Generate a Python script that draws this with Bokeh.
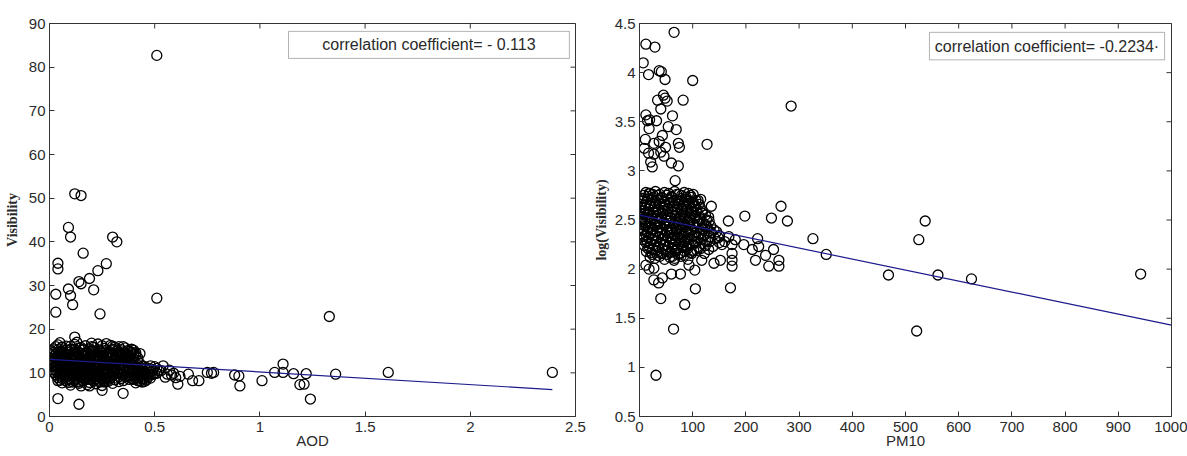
import math
from bokeh.plotting import figure
from bokeh.layouts import row
from bokeh.models import FixedTicker, Range1d, BoxAnnotation, Label
from bokeh.embed import file_html
from bokeh.resources import INLINE

# ---------------- data: left panel (AOD vs Visibility) ----------------
aod_out = [0.51, 0.12, 0.15, 0.09, 0.10, 0.30, 0.32, 0.04, 0.04, 0.16, 0.27, 0.23, 0.19, 0.14,
           0.15, 0.09, 0.03, 0.10, 0.11, 0.21, 0.03, 0.24, 0.51, 1.33, 0.12, 0.04, 0.14, 0.35, 0.25,
           0.56, 0.54, 0.60, 0.61, 0.58, 0.59, 0.62, 0.57, 0.53, 0.55, 0.66, 0.68, 0.71, 0.75, 0.77,
           0.78, 0.88, 0.90, 0.905, 1.01, 1.07, 1.11, 1.11, 1.16, 1.19, 1.21, 1.22, 1.24, 1.36, 1.61, 2.39,
           0.04, 0.09, 0.14, 0.19, 0.26]
vis_out = [82.7, 51.0, 50.6, 43.3, 41.1, 41.1, 40.0, 35.1, 33.8, 37.4, 35.0, 33.4, 31.6, 30.9,
           30.4, 29.2, 28.0, 27.7, 25.6, 29.0, 23.9, 23.5, 27.1, 22.9, 18.2, 4.1, 2.8, 5.3, 6.0,
           9.7, 11.6, 8.9, 7.4, 9.5, 9.9, 9.2, 10.6, 10.5, 9.0, 9.7, 8.2, 8.2, 10.1, 9.9,
           10.1, 9.5, 9.3, 7.0, 8.2, 10.1, 12.0, 10.1, 9.8, 7.3, 7.4, 9.8, 4.0, 9.7, 10.1, 10.1,
           8.2, 7.8, 7.9, 7.0, 8.2]

aod_cluster = [
    0.04, 0.08, 0.12, 0.17, 0.23, 0.29, 0.33,
    0.02, 0.06, 0.10, 0.14, 0.19, 0.21, 0.26, 0.31, 0.36, 0.39,
    0.01, 0.05, 0.09, 0.13, 0.16, 0.20, 0.24, 0.28, 0.32, 0.35, 0.38, 0.41,
    0.03, 0.07, 0.11, 0.15, 0.18, 0.22, 0.25, 0.30, 0.34, 0.37, 0.40,
    0.02, 0.05, 0.08, 0.12, 0.14, 0.17, 0.21, 0.24, 0.27, 0.31, 0.33, 0.36, 0.42,
    0.01, 0.04, 0.07, 0.10, 0.13, 0.16, 0.19, 0.23, 0.26, 0.29, 0.32, 0.35, 0.39,
    0.02, 0.06, 0.09, 0.11, 0.15, 0.18, 0.20, 0.25, 0.28, 0.30, 0.34, 0.37, 0.41,
    0.01, 0.03, 0.07, 0.10, 0.12, 0.16, 0.19, 0.22, 0.26, 0.29, 0.33, 0.36, 0.40, 0.44,
    0.02, 0.05, 0.08, 0.11, 0.14, 0.17, 0.21, 0.24, 0.27, 0.31, 0.34, 0.38, 0.42, 0.46, 0.50,
    0.01, 0.04, 0.06, 0.09, 0.13, 0.15, 0.18, 0.22, 0.25, 0.28, 0.32, 0.35, 0.39, 0.43, 0.47, 0.52,
    0.02, 0.05, 0.08, 0.12, 0.14, 0.17, 0.20, 0.23, 0.27, 0.30, 0.33, 0.37, 0.41, 0.44, 0.48, 0.51,
    0.03, 0.06, 0.10, 0.13, 0.16, 0.19, 0.24, 0.26, 0.29, 0.34, 0.38, 0.40, 0.43, 0.46, 0.49,
    0.04, 0.07, 0.11, 0.15, 0.18, 0.21, 0.25, 0.28, 0.32, 0.36, 0.39, 0.42, 0.45, 0.48,
    0.05, 0.09, 0.12, 0.17, 0.20, 0.23, 0.27, 0.31, 0.35, 0.40, 0.43, 0.46,
    0.06, 0.11, 0.14, 0.19, 0.22, 0.26, 0.30, 0.41, 0.44,
    0.10, 0.15, 0.18, 0.25,
    0.05, 0.13, 0.20, 0.27, 0.30]
vis_cluster = [
    16.4, 16.1, 16.5, 16.2, 16.6, 16.3, 16.0,
    15.5, 15.8, 15.4, 15.7, 15.5, 15.9, 15.6, 15.3, 15.7, 15.4,
    15.0, 14.9, 15.1, 14.8, 15.2, 14.9, 15.0, 14.7, 15.1, 14.8, 15.0, 14.6,
    14.3, 14.5, 14.2, 14.4, 14.6, 14.3, 14.5, 14.2, 14.4, 14.1, 14.3,
    13.7, 13.9, 13.6, 13.8, 14.0, 13.7, 13.9, 13.6, 13.8, 13.5, 13.9, 13.6, 13.4,
    13.2, 13.0, 13.3, 13.1, 13.4, 13.2, 12.9, 13.2, 13.0, 13.3, 12.9, 13.1, 12.8,
    12.5, 12.7, 12.4, 12.6, 12.8, 12.5, 12.3, 12.6, 12.4, 12.7, 12.3, 12.5, 12.2,
    12.0, 11.8, 12.1, 11.9, 12.2, 11.8, 12.0, 11.7, 12.1, 11.8, 12.0, 11.6, 11.9, 11.5,
    11.3, 11.5, 11.2, 11.4, 11.6, 11.3, 11.1, 11.4, 11.2, 11.5, 11.1, 11.3, 11.0, 11.2, 11.4,
    10.7, 10.9, 10.6, 10.8, 11.0, 10.7, 10.5, 10.8, 10.6, 10.9, 10.5, 10.7, 10.4, 10.6, 10.8, 10.5,
    10.1, 10.3, 10.0, 10.2, 10.4, 10.1, 9.9, 10.2, 10.0, 10.3, 9.9, 10.1, 9.8, 10.0, 10.2, 9.9,
    9.5, 9.7, 9.4, 9.6, 9.8, 9.5, 9.3, 9.6, 9.4, 9.7, 9.3, 9.5, 9.2, 9.4, 9.6,
    8.9, 9.1, 8.8, 9.0, 9.2, 8.9, 8.7, 9.0, 8.8, 9.1, 8.7, 8.9, 8.6, 8.8,
    8.3, 8.5, 8.2, 8.4, 8.6, 8.3, 8.1, 8.4, 8.2, 8.5, 8.1, 8.3,
    7.7, 7.9, 7.6, 7.8, 7.5, 7.9, 7.6, 7.7, 7.9,
    7.2, 7.0, 7.3, 7.1,
    16.9, 17.0, 16.8, 16.7, 16.1]

aod_cluster2 = [
    0.03, 0.06, 0.10, 0.15, 0.20, 0.25, 0.31, 0.35,
    0.04, 0.08, 0.12, 0.16, 0.20, 0.23, 0.27, 0.30, 0.34, 0.37, 0.40,
    0.02, 0.06, 0.10, 0.14, 0.17, 0.21, 0.26, 0.29, 0.33, 0.36, 0.39, 0.43,
    0.01, 0.04, 0.09, 0.13, 0.16, 0.20, 0.23, 0.28, 0.32, 0.35, 0.38, 0.41,
    0.03, 0.06, 0.10, 0.13, 0.15, 0.19, 0.22, 0.25, 0.29, 0.32, 0.34, 0.37, 0.40,
    0.02, 0.05, 0.08, 0.11, 0.14, 0.17, 0.21, 0.24, 0.27, 0.31, 0.33, 0.36, 0.38, 0.42,
    0.01, 0.04, 0.08, 0.10, 0.13, 0.17, 0.19, 0.23, 0.26, 0.29, 0.32, 0.35, 0.39, 0.43,
    0.02, 0.05, 0.09, 0.11, 0.14, 0.18, 0.21, 0.25, 0.28, 0.30, 0.34, 0.37, 0.41, 0.45, 0.48,
    0.03, 0.06, 0.09, 0.12, 0.16, 0.19, 0.23, 0.26, 0.29, 0.33, 0.36, 0.40, 0.44, 0.48, 0.51,
    0.03, 0.07, 0.10, 0.13, 0.16, 0.19, 0.21, 0.24, 0.28, 0.31, 0.35, 0.38, 0.42, 0.45, 0.49,
    0.04, 0.07, 0.11, 0.15, 0.18, 0.22, 0.25, 0.28, 0.31, 0.35, 0.39, 0.42, 0.45, 0.47, 0.50,
    0.05, 0.08, 0.12, 0.14, 0.17, 0.20, 0.23, 0.27, 0.30, 0.33, 0.37, 0.41, 0.44, 0.47,
    0.06, 0.10, 0.13, 0.16, 0.19, 0.22, 0.26, 0.29, 0.34, 0.38, 0.41, 0.44,
    0.08, 0.13, 0.16, 0.21, 0.24, 0.28, 0.33, 0.42, 0.45]
vis_cluster2 = [
    16.0, 15.9, 16.1, 15.8, 16.0, 16.2, 15.9, 16.0,
    15.3, 15.2, 15.4, 15.3, 15.1, 15.3, 15.2, 15.4, 15.3, 15.1, 15.2,
    14.7, 14.6, 14.8, 14.7, 14.5, 14.7, 14.8, 14.6, 14.7, 14.5, 14.7, 14.4,
    14.1, 14.0, 14.2, 14.1, 13.9, 14.1, 14.0, 14.2, 14.0, 14.1, 13.9, 14.0,
    13.5, 13.4, 13.6, 13.5, 13.3, 13.5, 13.4, 13.6, 13.5, 13.3, 13.5, 13.4, 13.2,
    12.9, 12.8, 13.0, 12.9, 12.7, 12.9, 12.8, 13.0, 12.9, 12.7, 12.9, 12.8, 12.6, 12.8,
    12.3, 12.2, 12.4, 12.3, 12.1, 12.3, 12.2, 12.4, 12.3, 12.1, 12.3, 12.2, 12.0, 12.1,
    11.7, 11.6, 11.8, 11.7, 11.5, 11.7, 11.6, 11.8, 11.7, 11.5, 11.7, 11.6, 11.4, 11.5, 11.6,
    11.1, 11.0, 11.2, 11.1, 10.9, 11.1, 11.0, 11.2, 11.1, 10.9, 11.1, 11.0, 10.8, 10.9, 11.0,
    10.5, 10.4, 10.6, 10.5, 10.3, 10.5, 10.4, 10.6, 10.5, 10.3, 10.5, 10.4, 10.2, 10.3, 10.4,
    9.9, 9.8, 10.0, 9.9, 9.7, 9.9, 9.8, 10.0, 9.9, 9.7, 9.9, 9.8, 9.6, 9.7, 9.8,
    9.3, 9.2, 9.4, 9.3, 9.1, 9.3, 9.2, 9.4, 9.3, 9.1, 9.3, 9.2, 9.0, 9.1,
    8.7, 8.6, 8.8, 8.7, 8.5, 8.7, 8.6, 8.8, 8.7, 8.5, 8.7, 8.6,
    8.1, 8.0, 8.2, 8.1, 7.9, 8.1, 8.0, 8.2, 8.0]

aod_fit = [13.1, -2.9]          # intercept, slope of the fitted line
aod_fit_x = [0.0, 2.39]
aod_r_text = "correlation coefficient= - 0.113"

# ---------------- data: right panel (PM10 vs log(Visibility)) ----------------
pm_out = [65, 12, 29, 7, 17, 37, 41, 48, 100, 82, 45, 48, 34, 52, 40, 62, 12, 19, 15, 32, 18, 54, 69,
          285, 127, 11, 27, 43, 37, 73, 75, 49, 9, 17, 27, 40, 46, 21, 24, 60, 73, 67,
          115, 135, 266, 198, 248, 278, 167, 130, 9, 18,
          326, 351, 468, 222, 196, 212, 224, 218, 237, 252, 243, 262, 262, 174, 174, 174, 174,
          152, 140, 117, 104, 93, 77, 60, 43, 27, 36, 12, 27, 18, 65, 40, 105, 171, 85, 64, 31,
          525, 561, 624, 942, 521, 537]
lv_out = [4.41, 4.29, 4.26, 4.10, 3.98, 4.02, 4.01, 3.93, 3.92, 3.72, 3.77, 3.74, 3.72, 3.71, 3.63,
          3.56, 3.57, 3.52, 3.51, 3.51, 3.43, 3.45, 3.42,
          3.66, 3.27, 3.32, 3.28, 3.36, 3.30, 3.28, 3.24, 3.24, 3.23, 3.18, 3.17, 3.19, 3.15, 3.09,
          3.04, 3.08, 3.05, 2.90,
          2.71, 2.64, 2.64, 2.54, 2.52, 2.49, 2.49, 2.53, 2.72, 2.77,
          2.31, 2.15, 1.94, 2.31, 2.25, 2.20, 2.23, 2.09, 2.14, 2.20, 2.03, 2.03, 2.09, 2.03, 2.09,
          2.16, 2.25, 2.09, 2.06, 2.09, 1.99, 2.04, 1.95, 1.95, 1.91, 1.89, 1.86, 2.04, 2.01, 2.00,
          2.09, 1.70, 1.80, 1.81, 1.64, 1.39, 0.92,
          2.30, 1.94, 1.90, 1.95, 1.37, 2.49]

pm_cluster = [
    12, 20, 30, 38, 47, 55, 66, 74, 84, 92, 101,
    5, 15, 25, 34, 43, 52, 61, 70, 79, 88, 97, 106,
    3, 10, 20, 29, 39, 48, 57, 65, 75, 83, 93, 102, 112,
    2, 8, 17, 26, 35, 44, 53, 62, 71, 80, 89, 98, 108, 118,
    1, 6, 14, 23, 31, 40, 49, 58, 67, 76, 85, 94, 104, 114, 124,
    3, 11, 19, 28, 37, 46, 55, 64, 73, 82, 91, 100, 110, 120, 131,
    2, 8, 16, 25, 34, 43, 51, 60, 69, 78, 87, 96, 106, 117, 127, 140,
    4, 12, 21, 30, 39, 48, 57, 66, 74, 83, 92, 102, 112, 123, 135, 150,
    6, 14, 23, 32, 41, 50, 59, 68, 77, 86, 95, 105, 116, 128, 142, 160, 180,
    9, 18, 27, 36, 45, 54, 63, 72, 81, 90, 100, 111, 124, 138, 155,
    13, 22, 31, 40, 49, 58, 67, 76, 85, 96, 108, 122,
    20, 29, 38, 47, 57, 66, 78, 91]
lv_cluster = [
    2.78, 2.77, 2.79, 2.76, 2.78, 2.77, 2.79, 2.76, 2.78, 2.77, 2.76,
    2.72, 2.71, 2.73, 2.70, 2.72, 2.71, 2.73, 2.70, 2.72, 2.71, 2.73, 2.70,
    2.66, 2.65, 2.67, 2.64, 2.66, 2.65, 2.67, 2.64, 2.66, 2.65, 2.67, 2.64, 2.66,
    2.60, 2.59, 2.61, 2.58, 2.60, 2.59, 2.61, 2.58, 2.60, 2.59, 2.61, 2.58, 2.60, 2.59,
    2.54, 2.53, 2.55, 2.52, 2.54, 2.53, 2.55, 2.52, 2.54, 2.53, 2.55, 2.52, 2.54, 2.53, 2.55,
    2.48, 2.47, 2.49, 2.46, 2.48, 2.47, 2.49, 2.46, 2.48, 2.47, 2.49, 2.46, 2.48, 2.47, 2.49,
    2.42, 2.41, 2.43, 2.40, 2.42, 2.41, 2.43, 2.40, 2.42, 2.41, 2.43, 2.40, 2.42, 2.41, 2.43, 2.40,
    2.36, 2.35, 2.37, 2.34, 2.36, 2.35, 2.37, 2.34, 2.36, 2.35, 2.37, 2.34, 2.36, 2.35, 2.37, 2.34,
    2.30, 2.29, 2.31, 2.28, 2.30, 2.29, 2.31, 2.28, 2.30, 2.29, 2.31, 2.28, 2.30, 2.29, 2.31, 2.28, 2.30,
    2.24, 2.23, 2.25, 2.22, 2.24, 2.23, 2.25, 2.22, 2.24, 2.23, 2.25, 2.22, 2.24, 2.23, 2.25,
    2.18, 2.17, 2.19, 2.16, 2.18, 2.17, 2.19, 2.16, 2.18, 2.17, 2.19, 2.16,
    2.12, 2.11, 2.13, 2.10, 2.12, 2.11, 2.13, 2.10]

pm_cluster2 = [
    8, 16, 25, 34, 42, 51, 60, 70, 79, 88, 96,
    6, 13, 22, 30, 39, 47, 56, 66, 74, 84, 92, 101, 110,
    4, 11, 19, 28, 36, 45, 53, 62, 70, 79, 88, 97, 105, 114,
    3, 9, 18, 27, 35, 44, 52, 61, 70, 79, 88, 97, 107, 118,
    4, 10, 16, 24, 33, 42, 50, 59, 68, 77, 86, 95, 105, 115, 126,
    5, 12, 21, 30, 39, 47, 56, 65, 74, 83, 92, 102, 113, 124, 134,
    7, 15, 24, 33, 42, 52, 61, 70, 79, 88, 97, 108, 120, 131, 145,
    9, 17, 26, 35, 44, 53, 62, 71, 80, 90, 99, 110, 121, 133, 148, 168,
    12, 21, 30, 39, 48, 57, 66, 75, 84, 93, 104, 118, 132, 150,
    16, 25, 34, 43, 52, 61, 70, 80, 90, 102, 115, 130,
    24, 34, 43, 52, 62, 72, 84, 98]
lv_cluster2 = [
    2.75, 2.74, 2.76, 2.75, 2.73, 2.75, 2.74, 2.76, 2.75, 2.73, 2.75,
    2.69, 2.68, 2.70, 2.69, 2.67, 2.69, 2.68, 2.70, 2.69, 2.67, 2.69, 2.68, 2.70,
    2.63, 2.62, 2.64, 2.63, 2.61, 2.63, 2.62, 2.64, 2.63, 2.61, 2.63, 2.62, 2.64, 2.63,
    2.57, 2.56, 2.58, 2.57, 2.55, 2.57, 2.56, 2.58, 2.57, 2.55, 2.57, 2.56, 2.58, 2.57,
    2.51, 2.50, 2.52, 2.51, 2.49, 2.51, 2.50, 2.52, 2.51, 2.49, 2.51, 2.50, 2.52, 2.51, 2.50,
    2.45, 2.44, 2.46, 2.45, 2.43, 2.45, 2.44, 2.46, 2.45, 2.43, 2.45, 2.44, 2.46, 2.45, 2.44,
    2.39, 2.38, 2.40, 2.39, 2.37, 2.39, 2.38, 2.40, 2.39, 2.37, 2.39, 2.38, 2.40, 2.39, 2.38,
    2.33, 2.32, 2.34, 2.33, 2.31, 2.33, 2.32, 2.34, 2.33, 2.31, 2.33, 2.32, 2.34, 2.33, 2.32, 2.33,
    2.27, 2.26, 2.28, 2.27, 2.25, 2.27, 2.26, 2.28, 2.27, 2.25, 2.27, 2.26, 2.28, 2.27,
    2.21, 2.20, 2.22, 2.21, 2.19, 2.21, 2.20, 2.22, 2.21, 2.19, 2.21, 2.20,
    2.15, 2.14, 2.16, 2.15, 2.13, 2.15, 2.14, 2.16]

pm_fit = [2.55, -0.00112]       # intercept, slope of the fitted line
pm_fit_x = [0.0, 1000.0]
pm_r_text = "correlation coefficient= -0.2234\u00b7"

aod_xticks = [0, 0.5, 1, 1.5, 2, 2.5]
aod_xlabels = ["0", "0.5", "1", "1.5", "2", "2.5"]
vis_yticks = [0, 10, 20, 30, 40, 50, 60, 70, 80, 90]
pm_xticks = [0, 100, 200, 300, 400, 500, 600, 700, 800, 900, 1000]
lv_yticks = [0.5, 1, 1.5, 2, 2.5, 3, 3.5, 4, 4.5]
lv_ylabels = ["0.5", "1", "1.5", "2", "2.5", "3", "3.5", "4", "4.5"]

SANS = "Liberation Sans"
SERIF = "Liberation Serif"
AXC = "#333333"
TXC = "#2a2a2a"


def style_axis(ax, ticks, labels=None):
    ax.ticker = FixedTicker(ticks=ticks)
    if labels is not None:
        ax.major_label_overrides = {t: l for t, l in zip(ticks, labels)}
    ax.major_tick_in = 5
    ax.major_tick_out = 0
    ax.minor_tick_line_color = None
    ax.axis_line_color = AXC
    ax.major_tick_line_color = AXC
    ax.major_label_text_font = SANS
    ax.major_label_text_color = TXC
    ax.major_label_text_font_size = "15px"
    ax.major_label_standoff = 5


def make_panel(xr, yr, xticks, xlabels, yticks, ylabels, ylabel, xlabel, xs_list, ys_list,
               fit, fit_x, r_text, box, width, borders, ylab_standoff):
    p = figure(width=width, height=456, x_range=Range1d(*xr), y_range=Range1d(*yr),
               output_backend="svg", toolbar_location=None,
               min_border_left=borders[0], min_border_right=borders[1],
               min_border_top=borders[2], min_border_bottom=borders[3])
    p.xgrid.visible = False
    p.ygrid.visible = False
    p.outline_line_color = AXC
    p.background_fill_color = "white"
    p.border_fill_color = "white"

    style_axis(p.xaxis[0], xticks, xlabels)
    style_axis(p.yaxis[0], yticks, ylabels)
    p.yaxis[0].major_label_standoff = 4
    p.yaxis[0].axis_label = ylabel
    p.yaxis[0].axis_label_text_font = SERIF
    p.yaxis[0].axis_label_text_font_style = "bold"
    p.yaxis[0].axis_label_text_font_size = "14px"
    p.yaxis[0].axis_label_text_color = TXC
    p.yaxis[0].axis_label_standoff = ylab_standoff
    p.xaxis[0].axis_label = xlabel
    p.xaxis[0].axis_label_text_font = SANS
    p.xaxis[0].axis_label_text_font_style = "normal"
    p.xaxis[0].axis_label_text_font_size = "15px"
    p.xaxis[0].axis_label_text_color = TXC
    p.xaxis[0].axis_label_standoff = -3

    # inward tick marks on the top and right edges of the box (clipped to the frame)
    p.scatter(xticks, [yr[1]] * len(xticks), marker="dash", size=10, angle=math.pi / 2,
              line_color=AXC, line_width=1)
    p.scatter([xr[1]] * len(yticks), yticks, marker="dash", size=10,
              line_color=AXC, line_width=1)

    for xs, ys in zip(xs_list, ys_list):
        p.scatter(xs, ys, marker="circle", size=10, fill_color=None,
                  line_color="black", line_width=1.3)

    fy = [fit[0] + fit[1] * x for x in fit_x]
    p.line(fit_x, fy, line_color="#1a1a8c", line_width=1.2)

    p.add_layout(BoxAnnotation(left=box[0], right=box[1], bottom=box[2], top=box[3],
                               fill_color="white", fill_alpha=1.0,
                               line_color="black", line_width=1))
    p.add_layout(Label(x=(box[0] + box[1]) / 2, y=(box[2] + box[3]) / 2, text=r_text,
                       text_align="center", text_baseline="middle",
                       text_font=SANS, text_font_size="16px", text_color=TXC))
    return p


p1 = make_panel((0, 2.5), (0, 90), aod_xticks, aod_xlabels, vis_yticks, None, "Visibility", "AOD",
                [aod_cluster, aod_cluster2, aod_out], [vis_cluster, vis_cluster2, vis_out],
                aod_fit, aod_fit_x, aod_r_text,
                (1.136, 2.471, 82.0, 88.2), 590, (49, 15, 20, 40), 6)
p2 = make_panel((0, 1000), (0.5, 4.5), pm_xticks, None, lv_yticks, lv_ylabels, "log(Visibility)",
                "PM10", [pm_cluster, pm_cluster2, pm_out], [lv_cluster, lv_cluster2, lv_out],
                pm_fit, pm_fit_x, pm_r_text,
                (545, 987, 4.13, 4.41), 597, (47, 16, 23, 39), 3)

layout = row(p1, p2)
open("out.html", "w").write(file_html(layout, INLINE))
